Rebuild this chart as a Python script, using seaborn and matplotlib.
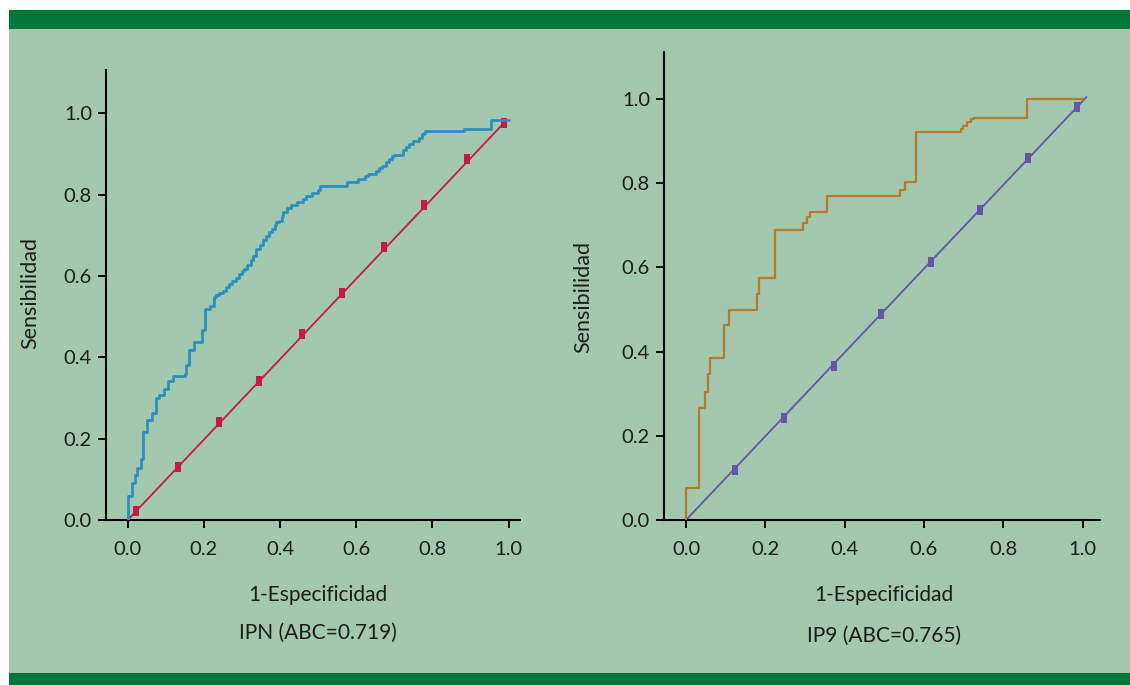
import matplotlib
matplotlib.use("Agg")
import matplotlib.pyplot as plt
from matplotlib.patches import Rectangle
from matplotlib.path import Path
import numpy as np
import pandas as pd
import seaborn as sns

# ROC for IPN (left): x = 1-especificidad, y = sensibilidad
ipn_fpr = [0.0, 0.0, 0.012, 0.018, 0.025, 0.034, 0.041, 0.050, 0.064, 0.073, 0.083, 0.094,
           0.107, 0.120, 0.150, 0.153, 0.162, 0.174, 0.195, 0.204, 0.216, 0.226, 0.232,
           0.240, 0.251, 0.259, 0.267, 0.275, 0.284, 0.293, 0.299, 0.305, 0.314, 0.323,
           0.330, 0.336, 0.347, 0.354, 0.363, 0.371, 0.378, 0.387, 0.389, 0.398, 0.404,
           0.408, 0.417, 0.430, 0.445, 0.459, 0.468, 0.485, 0.499, 0.505, 0.576, 0.605,
           0.623, 0.632, 0.653, 0.660, 0.668, 0.677, 0.685, 0.693, 0.700, 0.722, 0.730,
           0.738, 0.750, 0.765, 0.772, 0.779, 0.781, 0.883, 0.953, 1.0]
ipn_tpr = [0.0, 0.059, 0.092, 0.110, 0.127, 0.151, 0.217, 0.247, 0.264, 0.301, 0.307, 0.322,
           0.342, 0.355, 0.360, 0.381, 0.419, 0.437, 0.468, 0.518, 0.527, 0.548, 0.552,
           0.557, 0.564, 0.573, 0.580, 0.588, 0.596, 0.605, 0.611, 0.617, 0.626, 0.638,
           0.650, 0.667, 0.677, 0.687, 0.699, 0.708, 0.715, 0.724, 0.732, 0.736, 0.746,
           0.757, 0.767, 0.775, 0.782, 0.789, 0.796, 0.804, 0.811, 0.820, 0.830, 0.838,
           0.846, 0.850, 0.857, 0.864, 0.871, 0.879, 0.888, 0.895, 0.897, 0.909, 0.917,
           0.925, 0.932, 0.940, 0.948, 0.952, 0.956, 0.962, 0.983, 0.983]

# reference line for IPN and its marks
ipn_ref_x = [0.0, 0.99]
ipn_ref_y = [0.0, 0.978]
ipn_mark_x = [0.023, 0.131, 0.240, 0.345, 0.457, 0.562, 0.672, 0.778, 0.890, 0.987]
ipn_mark_y = [0.022, 0.131, 0.240, 0.342, 0.456, 0.558, 0.672, 0.775, 0.888, 0.975]

# ROC for IP9 (right)
ip9_fpr = [0.0, 0.0, 0.033, 0.048, 0.056, 0.061, 0.095, 0.108, 0.178, 0.185, 0.224,
           0.296, 0.305, 0.313, 0.356, 0.540, 0.552, 0.579, 0.694, 0.699, 0.708, 0.718,
           0.727, 0.859, 1.0]
ip9_tpr = [0.0, 0.077, 0.267, 0.303, 0.347, 0.384, 0.463, 0.500, 0.536, 0.575, 0.690,
           0.705, 0.720, 0.732, 0.769, 0.784, 0.804, 0.922, 0.928, 0.937, 0.945, 0.952,
           0.956, 1.0, 1.0]

ip9_ref_x = [0.0, 1.01]
ip9_ref_y = [0.0, 1.005]
ip9_mark_x = [0.124, 0.246, 0.372, 0.491, 0.617, 0.741, 0.862, 0.986]
ip9_mark_y = [0.119, 0.242, 0.367, 0.490, 0.614, 0.736, 0.861, 0.982]

tick_vals = [0.0, 0.2, 0.4, 0.6, 0.8, 1.0]
tick_labels = ["0.0", "0.2", "0.4", "0.6", "0.8", "1.0"]

sns.set_theme(style="ticks")
plt.rcParams["font.family"] = ["Lato", "DejaVu Sans"]

bg = "#A2C8AE"
dark = "#00773A"
txt = "#1c1c1c"

fig = plt.figure(figsize=(11.3, 6.85), dpi=100)
fig.patch.set_facecolor("white")
fig.patches.append(Rectangle((9 / 1130, 0), 1, 1 - 10 / 685, transform=fig.transFigure,
                             facecolor=bg, edgecolor="none", zorder=-3))
fig.patches.append(Rectangle((9 / 1130, 1 - 29 / 685), 1, 19 / 685, transform=fig.transFigure,
                             facecolor=dark, edgecolor="none", zorder=-2))
fig.patches.append(Rectangle((9 / 1130, 0), 1, 12.5 / 685, transform=fig.transFigure,
                             facecolor=dark, edgecolor="none", zorder=-2))

# tall thin box used as tick marks on the reference line
box = Path([(-0.28, -0.5), (0.28, -0.5), (0.28, 0.5), (-0.28, 0.5), (-0.28, -0.5)],
           [Path.MOVETO, Path.LINETO, Path.LINETO, Path.LINETO, Path.CLOSEPOLY])

panels = [
    dict(rect=[106 / 1130, 165 / 685, 414 / 1130, 450 / 685], xlim=(-0.057, 1.030), ylim=(0, 1.106),
         fpr=ipn_fpr, tpr=ipn_tpr, rx=ipn_ref_x, ry=ipn_ref_y, mx=ipn_mark_x, my=ipn_mark_y,
         c_roc="#2A90C0", lw_roc=2.0, c_ref="#C81848", ylab_pos=(-0.184, 0.504),
         xlab_y=-0.167, title_y=-0.251, title="IPN (ABC=0.719)"),
    dict(rect=[664 / 1130, 165 / 685, 436 / 1130, 468 / 685], xlim=(-0.0555, 1.044), ylim=(0, 1.112),
         fpr=ip9_fpr, tpr=ip9_tpr, rx=ip9_ref_x, ry=ip9_ref_y, mx=ip9_mark_x, my=ip9_mark_y,
         c_roc="#B87A2A", lw_roc=1.6, c_ref="#6454AA", ylab_pos=(-0.186, 0.476),
         xlab_y=-0.160, title_y=-0.248, title="IP9 (ABC=0.765)"),
]

for p in panels:
    ax = fig.add_axes(p["rect"])
    ax.set_facecolor("none")

    sns.lineplot(x=p["rx"], y=p["ry"], ax=ax, color=p["c_ref"], linewidth=1.3,
                 estimator=None, sort=False)
    sns.scatterplot(x=p["mx"], y=p["my"], ax=ax, marker=box, s=45, color=p["c_ref"],
                    linewidth=0, zorder=3)
    roc = pd.DataFrame({"fpr": p["fpr"], "tpr": p["tpr"]})
    sns.lineplot(data=roc, x="fpr", y="tpr", ax=ax, color=p["c_roc"], linewidth=p["lw_roc"],
                 estimator=None, sort=False, drawstyle="steps-post", zorder=4)

    ax.set_xlim(*p["xlim"])
    ax.set_ylim(*p["ylim"])
    ax.set_xticks(tick_vals, tick_labels)
    ax.set_yticks(tick_vals, tick_labels)
    ax.set_xlabel("")
    ax.set_ylabel("")
    for s in ["top", "right"]:
        ax.spines[s].set_visible(False)
    for s in ["left", "bottom"]:
        ax.spines[s].set_linewidth(1.5)
        ax.spines[s].set_color("black")
    ax.tick_params(axis="both", direction="out", length=6, width=1.4, color="black",
                   labelsize=14.5, labelcolor=txt)
    ax.tick_params(axis="x", pad=9)
    ax.tick_params(axis="y", pad=4)

    xt = ax.get_xaxis_transform()
    ax.text(0.5, p["xlab_y"], "1-Especificidad", transform=xt, ha="center", va="center",
            fontsize=15, color=txt)
    ax.text(0.5, p["title_y"], p["title"], transform=xt, ha="center", va="center",
            fontsize=15, color=txt)
    ax.text(p["ylab_pos"][0], p["ylab_pos"][1], "Sensibilidad", transform=ax.transAxes,
            rotation=90, ha="center", va="center", fontsize=15.5, color=txt)

fig.savefig("out.png", dpi=100, facecolor=fig.get_facecolor())
